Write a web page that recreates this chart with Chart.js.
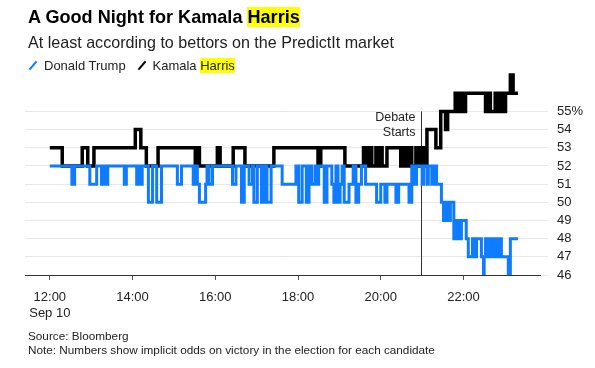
<!DOCTYPE html>
<html>
<head>
<meta charset="utf-8">
<script src="https://cdn.jsdelivr.net/npm/chart.js@4"></script>
<style>
  body { margin: 0; background: #fff; font-family: "Liberation Sans", Arial, sans-serif; color: #222; }
  #wrap { position: relative; width: 595px; height: 368px; overflow: hidden; }
  #chart { position: absolute; left: 0; top: 0; }
  .txt { position: absolute; left: 28px; white-space: nowrap; }
  #title { top: 7px; font-size: 18.1px; font-weight: bold; color: #000; }
  #sub { top: 33px; font-size: 16.1px; color: #222; }
  #legend { top: 58px; font-size: 13px; color: #222; }
  .hl { background: #ffff00; }
  .slash { display: inline-block; width: 2px; height: 11px; transform: rotate(40deg); margin: 0 10px -1px 4px; }
  #src { top: 329px; font-size: 11.75px; }
  #note { top: 343px; font-size: 11.75px; }
</style>
</head>
<body>
<div id="wrap">
  <canvas id="chart" width="595" height="368"></canvas>
  <div class="txt" id="title">A Good Night for Kamala <span class="hl">Harris</span></div>
  <div class="txt" id="sub">At least according to bettors on the PredictIt market</div>
  <div class="txt" id="legend"><span class="slash" style="background:#0f7bff"></span>Donald Trump &nbsp;&nbsp;<span class="slash" style="background:#000"></span>Kamala <span class="hl">Harris</span></div>
  <div class="txt" id="src">Source: Bloomberg</div>
  <div class="txt" id="note">Note: Numbers show implicit odds on victory in the election for each candidate</div>
</div>
<script>
  // price changes, Sep 10 (ET)
  const trumpTimes = ['12:00','12:32','12:36','12:58','13:08','13:15','13:18','13:21','13:24','13:48','13:51',
    '14:06','14:09','14:10','14:14','14:23','14:29','14:35','14:42','15:05','15:11','15:28','15:31','15:34','15:37',
    '15:46','15:48','15:51','15:56','16:25','16:30','16:38','16:42','16:49','16:54','16:56','17:01','17:07','17:11',
    '17:15','17:21','17:37','17:57','18:01','18:06','18:12','18:16','18:20','18:25','18:28','18:30','18:38','18:42',
    '18:49','18:52','18:55','18:58','19:01','19:04','19:07','19:14','19:20','19:24','19:28','19:32','19:38','19:54',
    '20:00','20:06','20:09','20:22','20:26','20:41','20:45','20:49','20:52','21:00','21:02','21:07','21:09','21:14',
    '21:17','21:21','21:28','21:31','21:34','21:38','21:41','21:46','21:50','21:53','21:57','22:04','22:07','22:13',
    '22:16','22:19','22:26','22:29','22:30','22:32','22:36','22:39','22:42','22:45','22:49','22:52','22:55','23:05',
    '23:08','23:19']
  const trumpValues = [52,51,52,51,52,51,52,51,52,51,52,
    51,52,51,52,50,52,50,52,51,52,51,52,51,50,
    51,52,51,52,51,52,50,52,51,52,50,52,50,52,
    50,52,51,52,50,52,50,52,51,52,51,52,50,52,
    51,50,52,50,51,52,50,51,52,50,51,52,51,50,
    51,50,51,50,51,50,52,51,52,51,52,51,52,51,
    52,51,50,49,50,49,50,48,49,48,49,48,47,48,
    47,48,47,46,47,48,47,48,47,48,47,48,47,46,
    48,48]

  const harrisTimes = ['12:00','12:18','12:47','12:55','13:04','14:04','14:12','14:20','14:37','15:31','15:34',
    '15:37','16:03','16:07','16:26','16:43','17:25','18:29','18:33','19:08','19:35','19:38','19:43','19:47','19:53',
    '19:57','20:00','20:02','20:09','20:29','20:33','20:38','20:40','20:45','20:51','20:55','20:58','21:02','21:07',
    '21:20','21:27','21:34','21:37','21:48','21:53','21:56','22:00','22:03','22:32','22:36','22:39','22:46','22:51',
    '22:55','22:58','23:01','23:08','23:12','23:19']
  const harrisValues = [53,52,53,52,53,54,53,52,53,52,53,
    52,53,52,53,52,53,52,53,52,53,52,53,52,53,
    52,53,52,53,52,53,52,53,52,53,52,53,52,54,
    53,55,54,55,56,55,56,55,56,55,56,55,56,55,
    56,55,56,57,56,56]

  const xTickHours = [12, 14, 16, 18, 20, 22]
  const yTickValues = [46, 47, 48, 49, 50, 51, 52, 53, 54, 55]
  const debateTime = '21:00'

  function toHours(t) {
    let p = t.split(':')
    return Number(p[0]) + Number(p[1]) / 60
  }
  function points(times, values) {
    return times.map((t, i) => ({ x: toHours(t), y: values[i] }))
  }

  const debateLine = {
    id: 'debateLine',
    beforeDatasetsDraw(chart) {
      let ctx = chart.ctx
      let x = Math.round(chart.scales.x.getPixelForValue(toHours(debateTime))) - 0.5
      let top = chart.scales.y.getPixelForValue(55)
      ctx.save()
      ctx.strokeStyle = '#333'
      ctx.lineWidth = 1
      ctx.beginPath()
      ctx.moveTo(x, top)
      ctx.lineTo(x, chart.chartArea.bottom)
      ctx.stroke()
      ctx.fillStyle = '#222'
      ctx.font = '12.5px "Liberation Sans", Arial, sans-serif'
      ctx.textAlign = 'right'
      ctx.textBaseline = 'middle'
      ctx.fillText('Debate', x - 6, top + 6)
      ctx.fillText('Starts', x - 6, top + 21)
      ctx.restore()
    }
  }

  let ctx = document.getElementById('chart').getContext('2d')
  let chart = new Chart(ctx, {
    type: 'line',
    data: {
      datasets: [{
        label: 'Donald Trump',
        data: points(trumpTimes, trumpValues),
        borderColor: '#0f7bff',
        borderWidth: 3,
        pointRadius: 0,
        stepped: true
      }, {
        label: 'Kamala Harris',
        data: points(harrisTimes, harrisValues),
        borderColor: '#000',
        borderWidth: 3.5,
        pointRadius: 0,
        stepped: true
      }]
    },
    options: {
      responsive: false,
      animation: false,
      layout: { padding: { left: 25, right: 0, top: 66, bottom: 38 } },
      plugins: { legend: { display: false }, tooltip: { enabled: false } },
      scales: {
        x: {
          type: 'linear',
          min: 11.4,
          max: 23.85,
          afterBuildTicks: (s) => { s.ticks = xTickHours.map(v => ({ value: v })) },
          afterFit: (s) => { s.height = 55 },
          grid: { drawOnChartArea: false, drawTicks: true, tickLength: 5, color: '#555' },
          border: { display: true, color: '#333', width: 1 },
          ticks: {
            autoSkip: false,
            maxRotation: 0,
            padding: 9,
            color: '#222',
            font: { family: '"Liberation Sans", Arial, sans-serif', size: 13, lineHeight: 1.25 },
            callback: (v) => v == 12 ? ['12:00', 'Sep 10'] : v + ':00'
          }
        },
        y: {
          position: 'right',
          min: 46,
          max: 57.5,
          afterBuildTicks: (s) => { s.ticks = yTickValues.map(v => ({ value: v })) },
          afterFit: (s) => { s.width = 55 },
          grid: { color: '#e8e8e8', lineWidth: 1, tickLength: 8 },
          border: { display: false },
          ticks: {
            padding: 9,
            color: '#222',
            font: { family: '"Liberation Sans", Arial, sans-serif', size: 13 },
            callback: (v) => v == 55 ? '55%' : String(v)
          }
        }
      }
    },
    plugins: [debateLine]
  })
</script>
</body>
</html>
